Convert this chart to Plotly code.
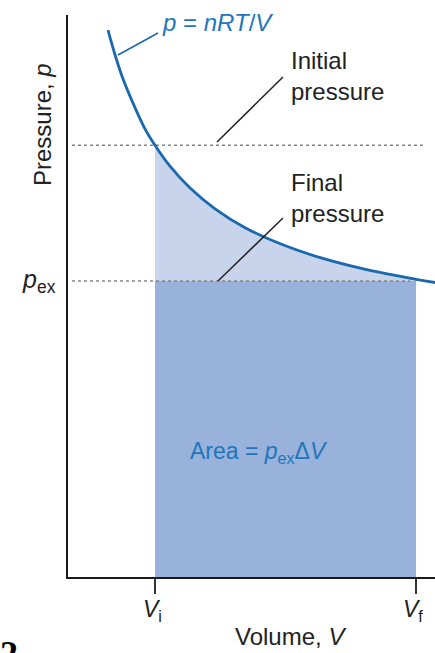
import plotly.graph_objects as go

# Isotherm p = nRT/V (volume, pressure in arbitrary units)
volume = [0.46, 0.53, 0.62, 0.74, 0.88, 1.00, 1.17, 1.40, 1.69, 2.03, 2.44, 2.90, 3.41, 4.00, 4.22]
pressure = [1.848, 1.775, 1.693, 1.606, 1.517, 1.459, 1.389, 1.315, 1.244, 1.181, 1.126, 1.079, 1.040, 1.006, 0.995]

v_initial = 1.0
v_final = 4.0
p_initial = 1.459
p_ex = 1.0

volume_ticks = [v_initial, v_final]
volume_tick_labels = ["<i>V</i><sub>i</sub>", "<i>V</i><sub>f</sub>"]

W, H = 435, 653
ML, MR, MT, MB = 68, 0, 15, 76
X_MAX = 4.218
Y_MAX = 1.899

CURVE = "#1a69ae"
BLUE_TEXT = "#2176bb"
LIGHT = "#c8d4eb"
DARK = "#98b2dc"
INK = "#222222"
FONT = "Liberation Sans, Arial, sans-serif"


def px_x(px):
    return (px - ML) / (W - ML - MR)


def px_y(py):
    return (H - MB - py) / (H - MB - MT)


fig = go.Figure()

# Work done against p_ex: rectangle under the external pressure
fig.add_trace(go.Scatter(
    x=[v_initial, v_final], y=[p_ex, p_ex], mode="lines",
    line=dict(width=0, color=DARK), fill="tozeroy", fillcolor=DARK,
    hoverinfo="skip", showlegend=False))

# Region between the isotherm and p_ex
seg_v = [v for v in volume if v_initial <= v <= v_final]
seg_p = [p for v, p in zip(volume, pressure) if v_initial <= v <= v_final]
fig.add_trace(go.Scatter(
    x=seg_v, y=seg_p, mode="lines",
    line=dict(width=0, color=LIGHT, shape="spline"),
    fill="tonexty", fillcolor=LIGHT, hoverinfo="skip", showlegend=False))

# Dotted pressure levels
fig.add_trace(go.Scatter(
    x=[0.046, 4.09], y=[p_initial, p_initial], mode="lines",
    line=dict(width=1.5, color="#858585", dash="dot"),
    hoverinfo="skip", showlegend=False))
fig.add_trace(go.Scatter(
    x=[0.046, 3.93], y=[p_ex, p_ex], mode="lines",
    line=dict(width=1.5, color="#858585", dash="dot"),
    hoverinfo="skip", showlegend=False))

# Isotherm
fig.add_trace(go.Scatter(
    x=volume, y=pressure, mode="lines",
    line=dict(width=2.8, color=CURVE, shape="spline"),
    hoverinfo="skip", showlegend=False))

# Leader lines
leaders = [
    ((118, 55), (158, 33), CURVE),
    ((217, 142), (283, 77), INK),
    ((218, 281), (283, 218), INK),
]
for (x0, y0), (x1, y1), col in leaders:
    fig.add_shape(type="line", xref="paper", yref="paper",
                  x0=px_x(x0), y0=px_y(y0), x1=px_x(x1), y1=px_y(y1),
                  line=dict(color=col, width=1.5))

ann = []
ann.append(dict(text="<i>p</i> = <i>nRT</i>/<i>V</i>", xref="paper", yref="paper",
                x=px_x(160), y=px_y(22), xanchor="left", yanchor="middle",
                font=dict(size=24, color=BLUE_TEXT)))
ann.append(dict(text="Initial<br>pressure", xref="paper", yref="paper",
                x=px_x(289), y=px_y(76), xanchor="left", yanchor="middle", align="left",
                font=dict(size=24, color=INK)))
ann.append(dict(text="Final<br>pressure", xref="paper", yref="paper",
                x=px_x(289), y=px_y(198), xanchor="left", yanchor="middle", align="left",
                font=dict(size=24, color=INK)))
ann.append(dict(text="Pressure, <i>p</i>", xref="paper", yref="paper", textangle=-90,
                x=px_x(42), y=px_y(125), xanchor="center", yanchor="middle",
                font=dict(size=24, color=INK)))
ann.append(dict(text="<i>p</i><sub>ex</sub>", xref="paper", yref="y",
                x=px_x(58), y=p_ex, xanchor="right", yanchor="middle",
                font=dict(size=25, color=INK)))
ann.append(dict(text="Area = <i>p</i><sub>ex</sub>Δ<i>V</i>", xref="paper", yref="paper",
                x=px_x(188), y=px_y(452), xanchor="left", yanchor="middle",
                font=dict(size=23, color=BLUE_TEXT)))
for v, lab in zip(volume_ticks, volume_tick_labels):
    ann.append(dict(text=lab, xref="x", yref="paper", x=v, y=px_y(610),
                    xanchor="center", yanchor="middle", xshift=-3,
                    font=dict(size=23, color=INK)))
ann.append(dict(text="Volume, <i>V</i>", xref="paper", yref="paper",
                x=px_x(290), y=px_y(652), xanchor="center", yanchor="bottom",
                font=dict(size=24, color=INK)))
ann.append(dict(text="<b>2</b>", xref="paper", yref="paper",
                x=px_x(-2), y=px_y(632), xanchor="left", yanchor="top",
                font=dict(size=36, color="#000000", family="Liberation Serif, serif")))
for a in ann:
    a["showarrow"] = False
fig.update_layout(annotations=ann)

fig.update_layout(
    width=W, height=H,
    margin=dict(l=ML, r=MR, t=MT, b=MB, pad=0),
    paper_bgcolor="white", plot_bgcolor="white",
    font=dict(family=FONT, color=INK),
    xaxis=dict(range=[0, X_MAX], showline=True, linecolor="#1a1a1a", linewidth=2,
               tickvals=volume_ticks, ticktext=volume_tick_labels, showticklabels=False,
               ticks="outside", ticklen=15, tickwidth=1.5, tickcolor="#333333",
               showgrid=False, zeroline=False, fixedrange=True),
    yaxis=dict(range=[0, Y_MAX], showline=True, linecolor="#1a1a1a", linewidth=2,
               showticklabels=False, ticks="", showgrid=False, zeroline=False,
               fixedrange=True),
)

fig.write_html("out.html")
